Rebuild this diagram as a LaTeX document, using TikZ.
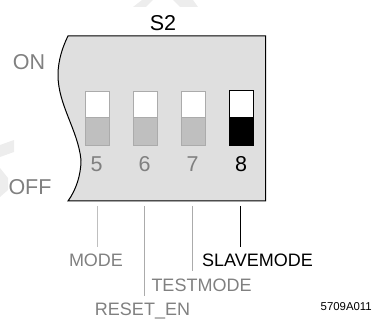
\documentclass[tikz,border=0pt]{standalone}
\usepackage{fontspec}
\setmainfont{Liberation Sans}
\definecolor{panelgray}{gray}{0.875}
\definecolor{offgray}{gray}{0.75}
\definecolor{edgegray}{gray}{0.67}
\definecolor{textgray}{gray}{0.5}
\definecolor{wm}{gray}{0.93}
\tikzset{
  lbl/.style={inner sep=0pt,font=\fontsize{18}{20}\selectfont,text=textgray,anchor=base},
  big/.style={inner sep=0pt,font=\fontsize{21.5}{24}\selectfont,text=textgray,anchor=base},
  leader/.style={draw=offgray,line width=1pt},
  sw/.style={draw=edgegray,line width=1pt,fill=white},
  swlow/.style={draw=edgegray,line width=1pt,fill=offgray},
}
\begin{document}
\begin{tikzpicture}[x=1pt,y=-1pt]
\useasboundingbox (0,0) rectangle (372,320);
\fill[wm] (133,7) -- (142,0) -- (153,0) -- (146,7) -- cycle;
\fill[wm] (173,0) -- (193,0) -- (198,7) -- (180,7) -- cycle;
\fill[wm] (0,145) -- (14,140) -- (14,152) -- (0,157) -- cycle;
\fill[wm] (0,168) -- (8,178) -- (8,190) -- (0,197) -- cycle;
\draw[fill=panelgray,line width=1pt] (68,36) -- (265.5,36) -- (265.5,201) -- (68,201)
  .. controls (76,190) and (81,175) .. (81,160)
  .. controls (78,130) and (58,105) .. (58,75)
  .. controls (58,60) and (63,46) .. (68,36) -- cycle;
\foreach \n/\x in {5/85,6/133,7/181}{
  \path[swlow] (\x,118) rectangle (\x+24,146);
  \path[sw] (\x,91.5) rectangle (\x+24,118);
  \node[big,text=textgray] (d\n) at (\x+11.5,172) {\n};
}
\path[draw=black,line width=1pt,fill=white] (229.5,91) rectangle (253.5,118);
\path[draw=black,line width=1pt,fill=black] (229.5,118) rectangle (253.5,146);
\node[big,text=black] (d8) at (241,172) {8};
\node[big,text=black] (s2) at (163,30.5) {S2};
\node[big] (on) at (29,70) {ON};
\node[big] (off) at (30,194.5) {OFF};
\node[lbl] (m) at (96,267) {MODE};
\node[lbl] (r) at (142.5,315) {RESET\_EN};
\node[lbl] (t) at (201.5,291) {TESTMODE};
\node[lbl,text=black] (sl) at (257.5,267) {SLAVEMODE};
\coordinate (t5) at (97,206); \coordinate (t6) at (144.5,206);
\coordinate (t7) at (192,206); \coordinate (t8) at (240,206);
\draw[leader] (t5) -- (97,247);
\draw[leader,draw=edgegray] (t6) -- (144.5,296);
\draw[leader,draw=edgegray] (t7) -- (192,271);
\draw[leader,draw=black] (t8) -- (240,247);
\node[inner sep=0pt,anchor=base east,font=\fontsize{11.4}{13}\selectfont] (id) at (372,310) {5709A011};
\end{tikzpicture}
\end{document}
